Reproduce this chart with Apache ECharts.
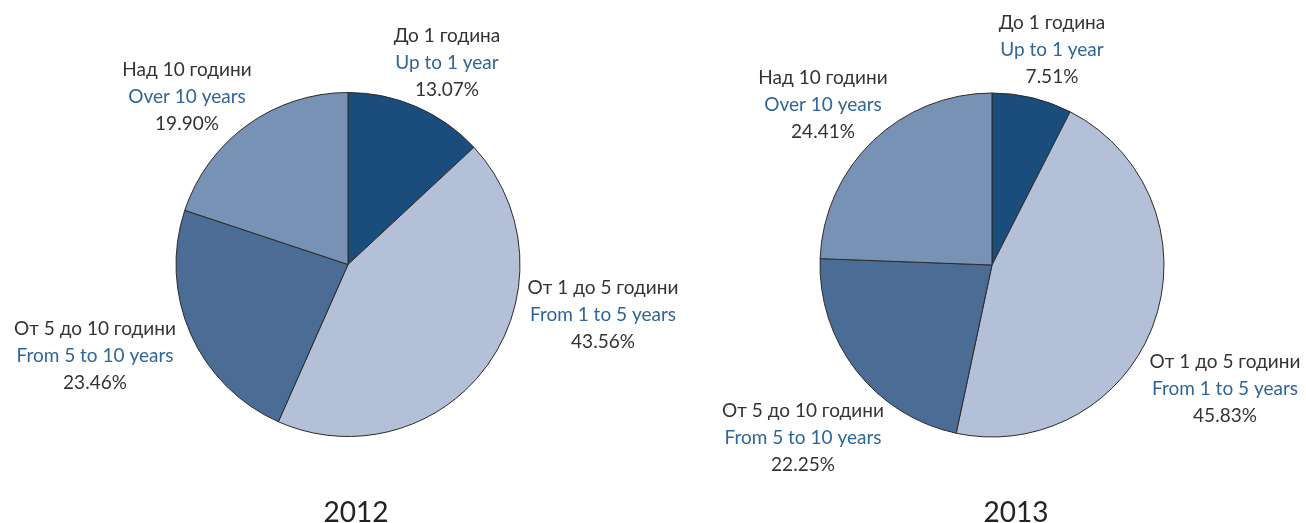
<!DOCTYPE html>
<html>
<head>
<meta charset="utf-8">
<script src="https://cdn.jsdelivr.net/npm/echarts@6/dist/echarts.min.js"></script>
<style>
  html, body { margin: 0; padding: 0; background: #fff; }
  #chart { width: 1306px; height: 523px; }
</style>
</head>
<body>
<div id="chart"></div>
<script>
// категории
var namesBg = ['До 1 година', 'От 1 до 5 години', 'От 5 до 10 години', 'Над 10 години'];
var namesEn = ['Up to 1 year', 'From 1 to 5 years', 'From 5 to 10 years', 'Over 10 years'];
var years = ['2012', '2013'];
var values2012 = [13.07, 43.56, 23.46, 19.90];
var values2013 = [7.51, 45.83, 22.25, 24.41];

var sliceColors = ['#1a4d7c', '#b3c0d7', '#4a6c95', '#7892b5'];
var pieCenters = [[348, 264.5], [992, 265]];
// label offsets from pie center (block middle)
var labelOffsets = [
    [[99, -202], [255, 50], [-253, 91], [-161, -168]],
    [[60, -215], [233, 124], [-189, 173], [-169, -160]]
];

var FONT = 'Lato, "Open Sans", sans-serif';

function buildData(values) {
    return values.map(function (v, i) {
        return {
            value: v,
            name: namesEn[i],
            bg: namesBg[i],
            itemStyle: {color: sliceColors[i]}
        };
    });
}

function buildSeries(values, idx) {
    var c = pieCenters[idx];
    return {
        type: 'pie',
        center: c,
        radius: 172,
        startAngle: 90,
        clockwise: true,
        silent: true,
        animation: false,
        itemStyle: {borderColor: '#2b2b2b', borderWidth: 1},
        labelLine: {show: false},
        label: {
            show: true,
            position: 'outside',
            overflow: 'none',
            edgeDistance: 0,
            formatter: function (p) {
                return '{bg|' + p.data.bg + '}\n{en|' + p.name + '}\n{pc|' + p.value.toFixed(2) + '%}';
            },
            rich: {
                bg: {fontFamily: FONT, fontSize: 19, color: '#333', lineHeight: 27, align: 'center'},
                en: {fontFamily: FONT, fontSize: 19, color: '#2f6699', lineHeight: 27, align: 'center'},
                pc: {fontFamily: FONT, fontSize: 19, color: '#333', lineHeight: 27, align: 'center'}
            }
        },
        labelLayout: function (p) {
            var off = labelOffsets[idx][p.dataIndex];
            return {
                x: c[0] + off[0],
                y: c[1] + off[1],
                align: 'center',
                verticalAlign: 'middle'
            };
        },
        data: buildData(values)
    };
}

var myChart = echarts.init(document.getElementById('chart'));
var option = {
    backgroundColor: '#fff',
    animation: false,
    title: [
        {text: years[0], left: 351, top: 494, textAlign: 'center',
         textStyle: {fontFamily: FONT, fontSize: 28, fontWeight: 'normal', color: '#222'}},
        {text: years[1], left: 1011, top: 494, textAlign: 'center',
         textStyle: {fontFamily: FONT, fontSize: 28, fontWeight: 'normal', color: '#222'}}
    ],
    series: [
        buildSeries(values2012, 0),
        buildSeries(values2013, 1)
    ]
};
myChart.setOption(option);
</script>
</body>
</html>
